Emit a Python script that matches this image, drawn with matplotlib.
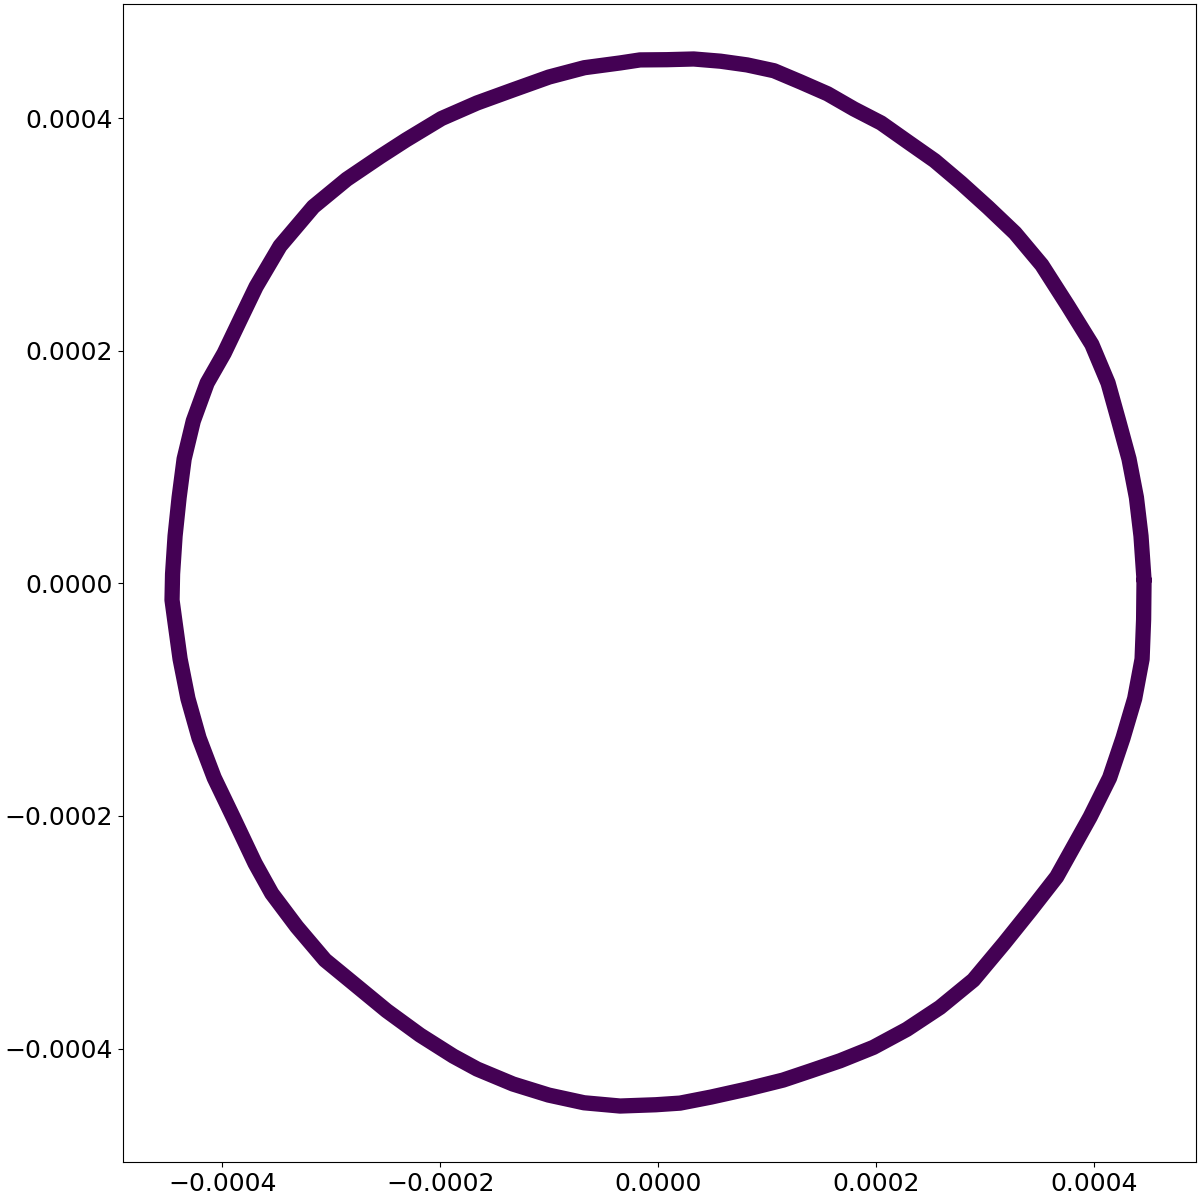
import matplotlib
matplotlib.use('Agg')
from matplotlib import pyplot as plt

# points along the middle of the ring (units of 1e-4)
ring_x = [4.456, 4.428, 4.386, 4.318, 4.223, 4.126, 3.977, 3.759, 3.518, 3.272,
          3.025, 2.777, 2.535, 2.291, 2.043, 1.795, 1.552, 1.306, 1.061, 0.814,
          0.570, 0.324, 0.078, -0.168, -0.351, -0.679, -1.003, -1.334, -1.663,
          -1.990, -2.315, -2.553, -2.859, -3.165, -3.471, -3.691, -3.838, -3.984,
          -4.140, -4.267, -4.351, -4.397, -4.434, -4.457, -4.462, -4.438, -4.388,
          -4.316, -4.214, -4.075, -3.902, -3.700, -3.547, -3.317, -3.058, -2.798,
          -2.492, -2.186, -1.881, -1.663, -1.333, -1.006, -0.682, -0.351, -0.024,
          0.199, 0.483, 0.814, 1.144, 1.392, 1.667, 1.972, 2.279, 2.584, 2.890,
          3.172, 3.417, 3.655, 3.961, 4.140, 4.263, 4.370, 4.438, 4.452, 4.456]
ring_y = [0.028, 0.407, 0.738, 1.069, 1.396, 1.722, 2.054, 2.384, 2.737, 3.012,
          3.232, 3.442, 3.634, 3.794, 3.958, 4.078, 4.209, 4.310, 4.407, 4.457,
          4.489, 4.508, 4.502, 4.500, 4.474, 4.433, 4.353, 4.242, 4.130,
          3.996, 3.812, 3.668, 3.474, 3.238, 2.900, 2.550, 2.264, 1.978,
          1.722, 1.396, 1.069, 0.738, 0.407, 0.080, -0.144, -0.311, -0.651,
          -0.991, -1.330, -1.672, -2.009, -2.408, -2.666, -2.953, -3.239, -3.439,
          -3.675, -3.884, -4.065, -4.176, -4.305, -4.400, -4.466, -4.494, -4.483,
          -4.469, -4.417, -4.348, -4.271, -4.193, -4.105, -3.990, -3.835, -3.646, -3.411,
          -3.095, -2.809, -2.523, -2.009, -1.672, -1.330, -0.991, -0.651, -0.311, 0.028]


def main():
    xs = [v * 1e-4 for v in ring_x]
    ys = [v * 1e-4 for v in ring_y]

    fig, ax = plt.subplots(figsize=(12, 12), dpi=100)
    fig.subplots_adjust(left=0.1023, right=0.9967, bottom=0.0314, top=0.9964)

    ax.plot(xs, ys, color='#440154', linewidth=11, solid_capstyle='round',
            solid_joinstyle='round')
    ax.scatter(xs, ys, c=[0.0] * len(xs), cmap='viridis', vmin=0, vmax=1,
               s=70, alpha=0.8)

    ax.set_xlim(-4.914e-4, 4.933e-4)
    ax.set_ylim(-4.978e-4, 4.978e-4)
    ax.set_xticks([-4e-4, -2e-4, 0, 2e-4, 4e-4])
    ax.set_yticks([-4e-4, -2e-4, 0, 2e-4, 4e-4])
    ax.tick_params(labelsize=18)
    fig.savefig('out.png')


if __name__ == "__main__":
    main()
